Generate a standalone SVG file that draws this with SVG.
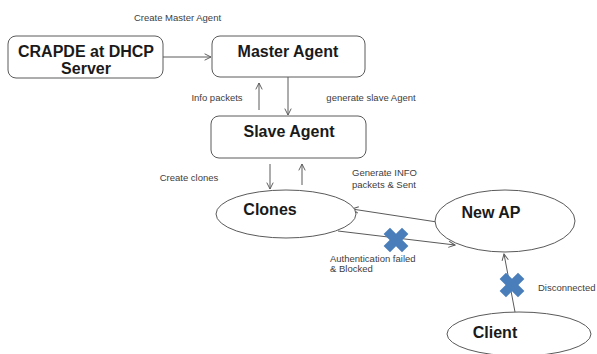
<svg xmlns="http://www.w3.org/2000/svg" width="597" height="354" viewBox="0 0 597 354">
<defs>
<style>
.box{fill:#fff;stroke:#5a5a5a;stroke-width:1}
.node-t{font-family:"Liberation Sans",Arial,sans-serif;font-weight:bold;font-size:16px;fill:#1a1a1a;text-anchor:middle}
.lbl{font-family:"Liberation Sans",Arial,sans-serif;font-size:9.5px;fill:#404040}
.con{stroke:#5a5a5a;stroke-width:1;fill:none;marker-end:url(#arr)}
.xm{fill:#4a7ebb}
</style>
<marker id="arr" viewBox="0 0 10 10" refX="9" refY="5" markerWidth="8" markerHeight="8" markerUnits="userSpaceOnUse" orient="auto">
<path d="M1,1 L9,5 L1,9" fill="none" stroke="#5a5a5a" stroke-width="1.2"/>
</marker>
<path id="xshape" d="M-4.5,-13 H4.5 V-4.5 H13 V4.5 H4.5 V13 H-4.5 V4.5 H-13 V-4.5 H-4.5 Z"/>
</defs>
<rect width="597" height="354" fill="#fff"/>

<g id="connectors">
<line class="con" x1="163" y1="57" x2="211" y2="57"/>
<line class="con" x1="259" y1="110" x2="259" y2="83"/>
<line class="con" x1="288" y1="77" x2="288" y2="115"/>
<line class="con" x1="270" y1="164" x2="270" y2="189"/>
<line class="con" x1="302" y1="185" x2="302" y2="164"/>
<line class="con" x1="437" y1="222" x2="352" y2="209"/>
<line class="con" x1="338" y1="231" x2="455" y2="245"/>
<line class="con" x1="515" y1="312" x2="504" y2="254"/>
</g>

<g id="labels">
<text class="lbl" x="177.5" y="21" text-anchor="middle">Create Master Agent</text>
<text class="lbl" x="217" y="101" text-anchor="middle">Info packets</text>
<text class="lbl" x="371" y="101" text-anchor="middle">generate slave Agent</text>
<text class="lbl" x="189" y="181" text-anchor="middle">Create clones</text>
<text class="lbl" x="352" y="176">Generate INFO</text>
<text class="lbl" x="352" y="188">packets &amp; Sent</text>
<text class="lbl" x="330" y="262">Authentication failed</text>
<text class="lbl" x="330" y="272">&amp; Blocked</text>
<text class="lbl" x="538" y="291">Disconnected</text>
</g>

<g id="crapde">
<rect class="box" x="8" y="36" width="155" height="42" rx="8"/>
<text class="node-t" x="86" y="57">CRAPDE at DHCP</text>
<text class="node-t" x="86" y="74">Server</text>
</g>

<g id="master">
<rect class="box" x="212" y="36" width="153" height="41" rx="8"/>
<text class="node-t" x="288" y="57">Master Agent</text>
</g>

<g id="slave">
<rect class="box" x="211" y="116" width="155" height="42" rx="8"/>
<text class="node-t" x="289" y="137">Slave Agent</text>
</g>

<g id="clones">
<ellipse class="box" cx="286" cy="214" rx="70" ry="24"/>
<text class="node-t" x="270" y="215">Clones</text>
</g>

<g id="newap">
<ellipse class="box" cx="505" cy="221" rx="70" ry="31"/>
<text class="node-t" x="491" y="218">New AP</text>
</g>

<g id="client">
<ellipse class="box" cx="519" cy="334" rx="72" ry="22"/>
<text class="node-t" x="495" y="338">Client</text>
</g>

<g id="blocks">
<use href="#xshape" class="xm" transform="translate(396,240) rotate(45)"/>
<use href="#xshape" class="xm" transform="translate(512,285) rotate(45)"/>
</g>
</svg>
